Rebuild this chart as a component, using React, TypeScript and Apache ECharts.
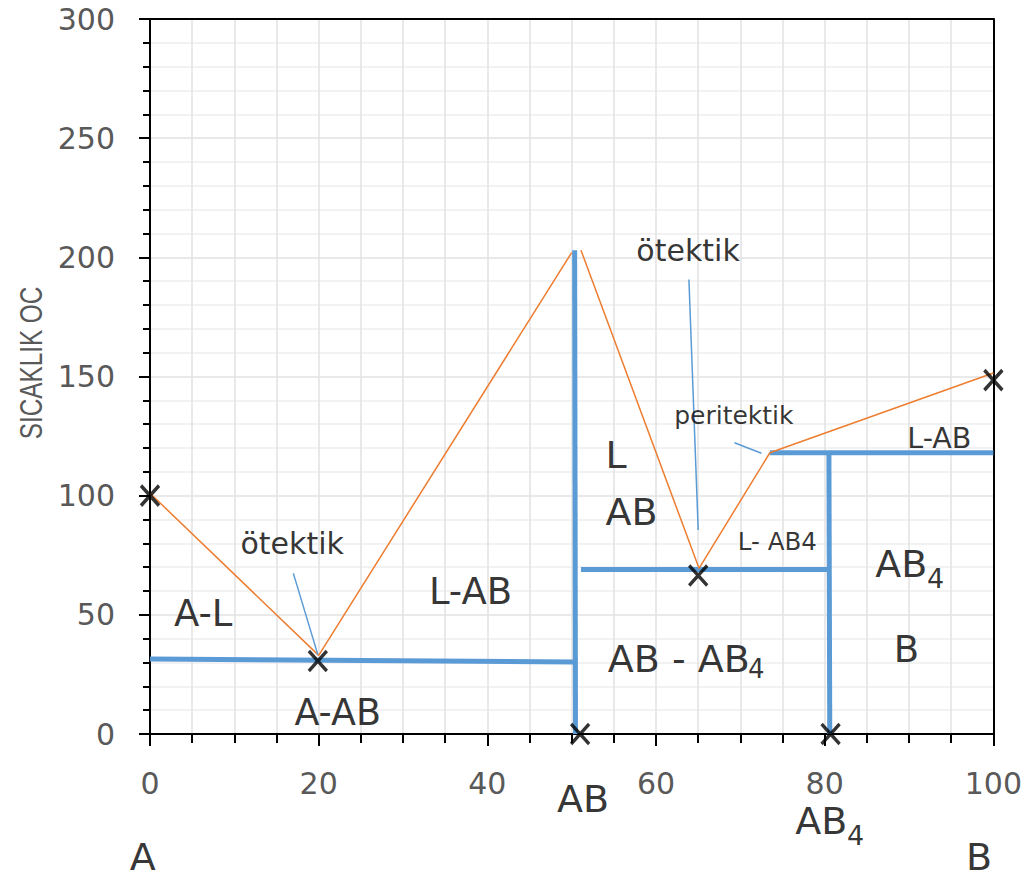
import React, { useEffect, useRef } from "react";
import * as echarts from "echarts";

// ---- data (composition %, temperature °C) ----
const orangeLeft: number[][] = [[0, 101], [20, 33], [50, 202]];
const orangeRight: number[][] = [[51.1, 203], [65.1, 69.5], [73.5, 118], [100, 151.5]];

const blueSeg1: number[][] = [[0, 31.5], [50.3, 30.2]];
const blueSeg2: number[][] = [[50.35, 203], [50.45, 0]];
const blueSeg3: number[][] = [[51.1, 69], [80.5, 69]];
const blueSeg4: number[][] = [[80.5, 118], [80.6, 0]];
const blueSeg5: number[][] = [[73.5, 118], [100, 118]];

const pointer1: number[][] = [[17, 67.4], [19.9, 33.3]];
const pointer2: number[][] = [[63.9, 190.7], [65, 85.6]];
const pointer3: number[][] = [[69.3, 122.2], [72.5, 117.8]];

const crossMarks: number[][] = [[0, 100], [19.9, 30.6], [65, 66.5], [100, 148.5], [51, 0], [80.7, 0]];

// annotation texts and their anchor (data coords)
const noteTexts: string[] = [
  "A-L", "A-AB", "ötektik", "L-AB", "L", "AB", "AB - AB", "4", "ötektik",
  "peritektik", "L- AB4", "L-AB", "AB", "4", "B", "AB", "AB", "4", "A", "B",
];
const noteX: number[] = [6.3, 22.25, 16.86, 38.0, 55.27, 57.1, 62.7, 71.9, 63.8, 69.23, 74.38, 93.59, 89.07, 93.14, 89.7, 51.34, 79.6, 83.67, -0.85, 98.3];
const noteY: number[] = [50.35, 9.1, 79.85, 60.0, 116.9, 93.2, 31.6, 27.3, 202.95, 133.6, 80.8, 124.1, 71.45, 65.2, 35.4, -27.4, -36.4, -42.7, -51.8, -51.8];
const noteSize: number[] = [37, 36.5, 30, 37, 38, 38, 38, 26, 30, 25, 24.5, 28.5, 38, 27, 37, 38, 38, 27, 38, 38];

const xMin = 0, xMax = 100, xStep = 20;
const yMin = 0, yMax = 300, yStep = 50;
const yTitle = "SICAKLIK OC";

const FONT = "DejaVu Sans";
const BLUE = "#5B9BD5";
const ORANGE = "#ED7D31";

function lineSeries(data: number[][], color: string, width: number, z: number) {
  return {
    type: "line",
    data,
    symbol: "none",
    showSymbol: false,
    silent: true,
    z,
    lineStyle: { color, width, cap: "butt" },
    emphasis: { disabled: true },
  };
}

export default function App() {
  const ref = useRef<HTMLDivElement>(null);
  useEffect(() => {
    if (!ref.current) return;
    const chart = echarts.init(ref.current, null, { renderer: "svg" });

    const noteData = noteTexts.map((t, i) => ({
      value: [noteX[i], noteY[i]],
      label: {
        show: true,
        position: "inside",
        formatter: t,
        color: "#000",
        fontFamily: FONT,
        fontSize: noteSize[i],
        lineHeight: Math.round(noteSize[i] * 0.8),
        align: "center",
        verticalAlign: "middle",
      },
    }));

    const tickStyle = { color: "#000", width: 2 };
    const gridColor = "#e2e2e2";
    const frameAxis = {
      axisLine: { show: true, onZero: false, lineStyle: { color: "#000", width: 2 } },
      axisTick: { show: false },
      axisLabel: { show: false },
      splitLine: { show: false },
    };

    const option: any = {
      animation: false,
      grid: { left: 150, right: 30, top: 19, bottom: 145 },
      xAxis: [
        {
          type: "value", min: xMin, max: xMax, interval: xStep,
          axisLine: { show: true, onZero: false, lineStyle: { color: "#000", width: 2 } },
          axisTick: { show: true, length: 12, lineStyle: tickStyle },
          minorTick: { show: true, splitNumber: 4, length: 9, lineStyle: tickStyle },
          splitLine: { show: true, showMinLine: false, showMaxLine: false, lineStyle: { color: gridColor, width: 1.5 } },
          minorSplitLine: { show: true, lineStyle: { color: gridColor, width: 1.5 } },
          axisLabel: { margin: 36, fontSize: 30, color: "#595959", fontFamily: FONT, lineHeight: 26 },
        },
        { type: "value", position: "top", min: xMin, max: xMax, interval: xStep, ...frameAxis },
      ],
      yAxis: [
        {
          type: "value", min: yMin, max: yMax, interval: yStep,
          axisLine: { show: true, onZero: false, lineStyle: { color: "#000", width: 2 } },
          axisTick: { show: true, length: 11, lineStyle: tickStyle },
          minorTick: { show: true, splitNumber: 5, length: 7, lineStyle: tickStyle },
          splitLine: { show: true, showMinLine: false, showMaxLine: false, lineStyle: { color: gridColor, width: 1.5 } },
          minorSplitLine: { show: true, lineStyle: { color: "#eeeeee", width: 1.5 } },
          axisLabel: { margin: 35, fontSize: 30, color: "#595959", fontFamily: FONT },
        },
        { type: "value", position: "right", min: yMin, max: yMax, interval: yStep, ...frameAxis },
      ],
      graphic: [
        {
          type: "text",
          x: 31,
          y: 363,
          rotation: Math.PI / 2,
          scaleX: 0.76,
          style: {
            text: yTitle,
            fontSize: 32,
            fontFamily: "Liberation Sans",
            fill: "#595959",
            align: "center",
            verticalAlign: "middle",
          },
        },
      ],
      series: [
        lineSeries(orangeLeft, ORANGE, 1.5, 3),
        lineSeries(orangeRight, ORANGE, 1.5, 3),
        lineSeries(blueSeg1, BLUE, 5, 2),
        lineSeries(blueSeg2, BLUE, 5, 2),
        lineSeries(blueSeg3, BLUE, 5, 2),
        lineSeries(blueSeg4, BLUE, 5, 2),
        lineSeries(blueSeg5, BLUE, 5, 2),
        lineSeries(pointer1, BLUE, 1.5, 3),
        lineSeries(pointer2, BLUE, 1.5, 3),
        lineSeries(pointer3, BLUE, 1.5, 3),
        {
          type: "scatter",
          data: crossMarks,
          symbol: "path://M0,0L18,20M18,0L0,20",
          symbolSize: [18, 20],
          clip: false,
          silent: true,
          z: 5,
          itemStyle: { color: "#000", borderColor: "#000", borderWidth: 3.5 },
          emphasis: { disabled: true },
        },
        {
          type: "scatter",
          data: noteData,
          symbol: "circle",
          symbolSize: 1,
          clip: false,
          silent: true,
          z: 6,
          itemStyle: { color: "rgba(0,0,0,0)" },
          emphasis: { disabled: true },
        },
      ],
    };
    chart.setOption(option);
    return () => chart.dispose();
  }, []);

  return (
    <div
      ref={ref}
      style={{ position: "fixed", left: 0, top: 0, width: 1025, height: 879, background: "#fff" }}
    />
  );
}
